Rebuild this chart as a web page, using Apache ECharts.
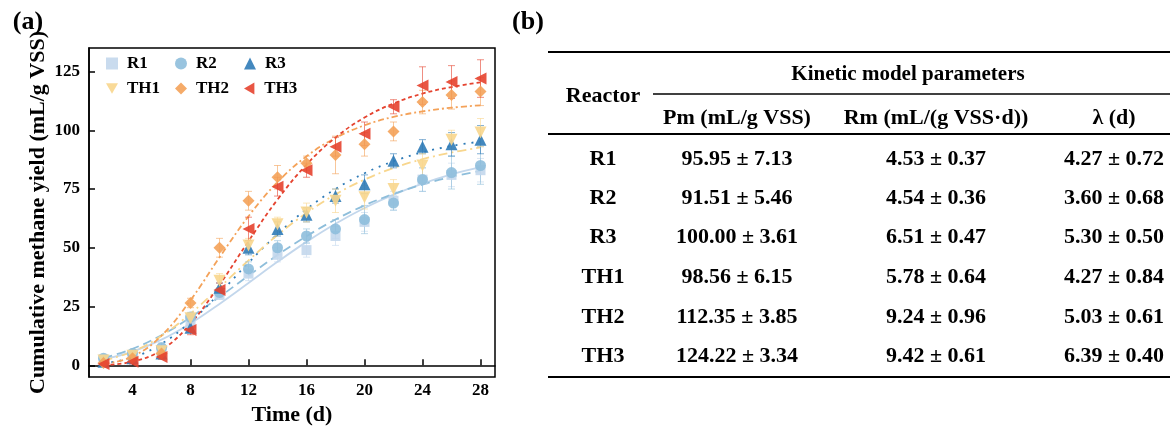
<!DOCTYPE html>
<html><head><meta charset="utf-8">
<script src="https://cdn.jsdelivr.net/npm/echarts@6/dist/echarts.min.js"></script>
<style>html,body{margin:0;padding:0;background:#fff}#c{width:1170px;height:426px}</style>
</head><body><div id="c"></div>
<script>
// ---------- data ----------
const days = [2,4,6,8,10,12,14,16,18,20,22,24,26,28];
const seriesNames = ['R1','R2','R3','TH1','TH2','TH3'];

const R1  = [2.5, 4, 6, 18, 30, 39, 47, 49, 55, 61, 70, 79, 81, 83];
const R2  = [3, 5, 7.5, 20.5, 31, 41, 50, 55, 58, 62, 69, 79, 82, 85];
const R3  = [1.5, 3, 5, 16, 33, 50, 58, 64, 72, 77, 87, 93, 94, 96];
const TH1 = [2, 4, 6, 20, 36, 51, 60, 65, 70, 71.5, 75, 85, 96, 99];
const TH2 = [1, 3, 5, 26.5, 50, 70, 80, 86, 89.5, 94, 99.5, 112, 115, 116.5];
const TH3 = [0.5, 1.5, 3.5, 15, 32, 58, 76, 83, 93, 98.5, 110, 119, 120.5, 122];

const R1_err  = [1, 1, 1.5, 2, 2, 3, 3, 3, 4, 4, 4, 5, 5, 5];
const R2_err  = [1, 1, 2, 2, 2, 3, 3, 3, 4, 6, 3, 5, 7, 8];
const R3_err  = [0.5, 1, 1, 2, 2, 3, 3, 3, 3, 4, 3, 3, 5, 6];
const TH1_err = [1, 1, 1.5, 2, 3, 3, 3, 4, 5, 5, 4, 5, 4, 6];
const TH2_err = [0.5, 1, 1.5, 2, 4, 4, 5, 3, 8, 5, 4, 5, 6, 6];
const TH3_err = [0.5, 1, 1, 2, 3, 5, 4, 3, 4, 5, 3, 8, 7, 8];

// fitted curves, read at the same days
const R1_fit  = [2.5, 5.8, 10.9, 17.8, 26.1, 35.0, 44.0, 52.5, 60.2, 66.9, 72.6, 77.3, 81.2, 84.3];
const R2_fit  = [3.1, 7.0, 12.8, 20.4, 29.1, 38.1, 46.9, 54.9, 62.0, 68.0, 72.9, 76.9, 80.2, 82.7];
const R3_fit  = [0.8, 3.3, 9.1, 18.5, 30.6, 43.6, 55.8, 66.4, 75.0, 81.7, 86.8, 90.6, 93.3, 95.2];
const TH1_fit = [2.0, 5.8, 12.5, 22.0, 33.1, 44.6, 55.4, 64.8, 72.7, 79.0, 83.9, 87.7, 90.5, 92.7];
const TH2_fit = [0.5, 3.7, 12.6, 27.7, 45.9, 63.4, 77.9, 88.9, 96.7, 102.1, 105.7, 108.0, 109.6, 110.6];
const TH3_fit = [0.2, 1.5, 6.5, 17.7, 34.2, 52.8, 70.5, 85.4, 96.9, 105.4, 111.4, 115.6, 118.4, 120.4];

const xTicks = [4, 8, 12, 16, 20, 24, 28];
const yTicks = [0, 25, 50, 75, 100, 125];

// table (b)
const tableReactors = ['R1','R2','R3','TH1','TH2','TH3'];
const tablePm = ['95.95 ± 7.13','91.51 ± 5.46','100.00 ± 3.61','98.56 ± 6.15','112.35 ± 3.85','124.22 ± 3.34'];
const tableRm = ['4.53 ± 0.37','4.54 ± 0.36','6.51 ± 0.47','5.78 ± 0.64','9.24 ± 0.96','9.42 ± 0.61'];
const tableLambda = ['4.27 ± 0.72','3.60 ± 0.68','5.30 ± 0.50','4.27 ± 0.84','5.03 ± 0.61','6.39 ± 0.40'];
const tableHeaders = ['Pm (mL/g VSS)','Rm (mL/(g VSS·d))','λ (d)'];

// ---------- styling ----------
const FONT = '"Liberation Serif","Times New Roman",serif';
const values = [R1, R2, R3, TH1, TH2, TH3];
const errs = [R1_err, R2_err, R3_err, TH1_err, TH2_err, TH3_err];
const fits = [R1_fit, R2_fit, R3_fit, TH1_fit, TH2_fit, TH3_fit];
const colors = ['#c3d7ec', '#8ebedb', '#2f7bb7', '#f8d68d', '#f4a259', '#e5432f'];
const symbols = ['rect', 'circle', 'triangle', 'triangle', 'diamond', 'triangle'];
const symRot = [0, 0, 0, 180, 0, 90];
const symSize = [10, 11, 12, 12, 12, 12];
const legendIcons = ['rect', 'circle', 'triangle', 'path://M0,0L10,0L5,8.66Z', 'diamond', 'path://M8.66,0L8.66,10L0,5Z'];
const lineTypes = ['solid', [9, 5], [2, 6], [9, 4, 2, 4], [6, 3, 2, 3], [4, 3]];

const series = [];
seriesNames.forEach((name, i) => {
  const c = colors[i];
  series.push({
    name: name + ' fit', type: 'line', smooth: 0.4, showSymbol: false, silent: true,
    data: days.map((d, j) => [d, fits[i][j]]),
    lineStyle: { color: c, width: 1.8, type: lineTypes[i] }, z: 2
  });
  series.push({
    name: name + ' err', type: 'custom', silent: true, z: 3,
    data: days.map((d, j) => [d, values[i][j] - errs[i][j], values[i][j] + errs[i][j]]),
    renderItem: (params, api) => {
      const x = api.value(0);
      const p1 = api.coord([x, api.value(1)]);
      const p2 = api.coord([x, api.value(2)]);
      const w = 3.5;
      const st = { stroke: c, lineWidth: 1, opacity: 0.6 };
      return { type: 'group', children: [
        { type: 'line', shape: { x1: p1[0], y1: p1[1], x2: p2[0], y2: p2[1] }, style: st },
        { type: 'line', shape: { x1: p1[0]-w, y1: p1[1], x2: p1[0]+w, y2: p1[1] }, style: st },
        { type: 'line', shape: { x1: p2[0]-w, y1: p2[1], x2: p2[0]+w, y2: p2[1] }, style: st }
      ]};
    }
  });
  series.push({
    name: name, type: 'scatter', symbol: symbols[i], symbolRotate: symRot[i], symbolSize: symSize[i],
    data: days.map((d, j) => [d, values[i][j]]),
    itemStyle: { color: c, opacity: 0.9 }, z: 4
  });
});

// legends: one per item, 3 columns x 2 rows
const legCols = [106, 175, 244];
const legRows = [55, 80];
const legends = seriesNames.map((n, i) => ({
  data: [{ name: n, icon: legendIcons[i] }], left: legCols[i % 3], top: legRows[Math.floor(i / 3)], padding: 0,
  itemWidth: 12, itemHeight: 12, itemGap: 0, selectedMode: false,
  textStyle: { fontFamily: FONT, fontWeight: 'bold', fontSize: 17, color: '#000', padding: [0,0,0,4] }
}));

// table graphics
const g = [];
const T = (text, x, y, size) => g.push({ type: 'text', x: x, y: y, silent: true,
  style: { text: text, font: 'bold ' + (size || 22) + 'px ' + FONT, fill: '#000', align: 'center', verticalAlign: 'middle' } });
const L = (x1, y1, x2, y2, w) => g.push({ type: 'line', silent: true,
  shape: { x1: x1, y1: y1, x2: x2, y2: y2 }, style: { stroke: '#000', lineWidth: w } });

T('(a)', 28, 22, 26);
T('(b)', 528, 22, 26);
L(548, 52, 1170, 52, 2);
T('Kinetic model parameters', 908, 75, 21);
L(653, 94, 1170, 94, 1.5);
T('Reactor', 603, 96);
const colX = [737, 936, 1114];
tableHeaders.forEach((h, k) => T(h, colX[k], 118));
L(548, 134, 1170, 134, 2);
const rowY = [159, 198, 237, 277, 317, 356];
tableReactors.forEach((r, k) => {
  T(r, 603, rowY[k]);
  T(tablePm[k], colX[0], rowY[k]);
  T(tableRm[k], colX[1], rowY[k]);
  T(tableLambda[k], colX[2], rowY[k]);
});
L(548, 377, 1170, 377, 2);

const option = {
  animation: false,
  backgroundColor: '#fff',
  grid: { left: 89, top: 48, width: 406, height: 329, show: true, borderColor: '#000', borderWidth: 1.5,
          backgroundColor: 'transparent', outerBoundsMode: 'none', containLabel: false },
  legend: legends,
  xAxis: {
    type: 'value', min: 1, max: 29,
    name: 'Time (d)', nameLocation: 'middle', nameGap: 26,
    nameTextStyle: { fontFamily: FONT, fontWeight: 'bold', fontSize: 22, color: '#000' },
    axisLine: { lineStyle: { color: '#000', width: 1.5 } },
    axisTick: { inside: true, length: 6, customValues: xTicks, lineStyle: { color: '#000', width: 1.5 } },
    axisLabel: { customValues: xTicks, fontFamily: FONT, fontWeight: 'bold', fontSize: 17, color: '#000', margin: 5 },
    splitLine: { show: false }
  },
  yAxis: {
    type: 'value', min: -5, max: 135,
    name: 'Cumulative methane yield (mL/g VSS)', nameLocation: 'middle', nameGap: 40,
    nameTextStyle: { fontFamily: FONT, fontWeight: 'bold', fontSize: 22, color: '#000' },
    axisLine: { lineStyle: { color: '#000', width: 1.5 } },
    axisTick: { inside: true, length: 6, customValues: yTicks, lineStyle: { color: '#000', width: 1.5 } },
    axisLabel: { customValues: yTicks, fontFamily: FONT, fontWeight: 'bold', fontSize: 17, color: '#000', margin: 9 },
    splitLine: { show: false }
  },
  series: series,
  graphic: g
};
const chart = echarts.init(document.getElementById('c'), null, { renderer: 'canvas' });
chart.setOption(option);
</script>
</body></html>
